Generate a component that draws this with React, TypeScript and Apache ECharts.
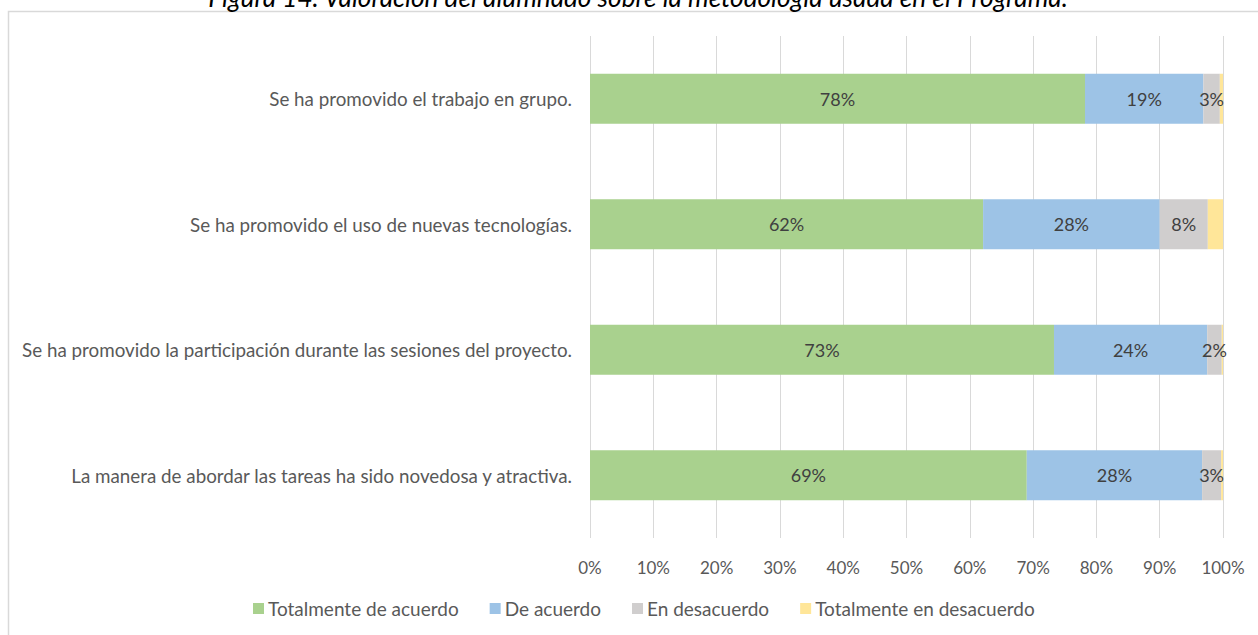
import React, { useEffect, useRef } from "react";
import * as echarts from "echarts";

const categories = [
  "Se ha promovido el trabajo en grupo.",
  "Se ha promovido el uso de nuevas tecnologías.",
  "Se ha promovido la participación durante las sesiones del proyecto.",
  "La manera de abordar las tareas ha sido novedosa y atractiva.",
];
const seriesNames = [
  "Totalmente de acuerdo",
  "De acuerdo",
  "En desacuerdo",
  "Totalmente en desacuerdo",
];
const totalmenteDeAcuerdo = [78.2, 62.1, 73.3, 69.0];
const deAcuerdo = [18.7, 27.9, 24.2, 27.7];
const enDesacuerdo = [2.6, 7.6, 2.3, 3.0];
const totalmenteEnDesacuerdo = [0.5, 2.4, 0.2, 0.3];
const xTicks = [0, 10, 20, 30, 40, 50, 60, 70, 80, 90, 100];
const colors = ["#A9D18E", "#9DC3E6", "#D0CECE", "#FFE699"];
const title = "Figura 14. Valoración del alumnado sobre la metodología usada en el Programa.";

const FONT = "Lato";

export default function App() {
  const ref = useRef<HTMLDivElement>(null);
  useEffect(() => {
    if (!ref.current) return;
    const chart = echarts.init(ref.current, null, { renderer: "svg" });
    const values = [totalmenteDeAcuerdo, deAcuerdo, enDesacuerdo, totalmenteEnDesacuerdo];
    chart.setOption({
      animation: false,
      textStyle: { fontFamily: FONT },
      graphic: [
        {
          type: "rect",
          shape: { x: 8.5, y: 11.5, width: 1400, height: 800 },
          style: { fill: "none", stroke: "#d9d9d9", lineWidth: 1.5 },
          silent: true,
        },
        {
          type: "text",
          x: 638,
          y: 10,
          style: {
            text: title,
            font: `italic 26.2px ${FONT}`,
            fill: "#000000",
            textAlign: "center",
            textVerticalAlign: "bottom",
          },
        },
      ],
      legend: {
        bottom: 12,
        left: 248,
        itemWidth: 11,
        itemHeight: 11,
        itemGap: 31,
        icon: "rect",
        textStyle: { color: "#595959", fontSize: 19, fontFamily: FONT, padding: [0, 0, 0, -1] },
        data: seriesNames,
      },
      grid: {
        left: 590,
        right: 35,
        top: 36,
        bottom: 97,
        containLabel: false,
        outerBoundsMode: "none",
      },
      xAxis: {
        type: "value",
        min: xTicks[0],
        max: xTicks[xTicks.length - 1],
        interval: 10,
        axisLine: { show: false },
        axisTick: { show: false },
        splitLine: { show: true, lineStyle: { color: "#d9d9d9", width: 1 } },
        axisLabel: {
          formatter: (v: number) => `${v}%`,
          color: "#595959",
          fontSize: 17,
          fontFamily: FONT,
          margin: 21,
        },
      },
      yAxis: {
        type: "category",
        data: categories,
        inverse: true,
        axisLine: { show: false },
        axisTick: { show: false },
        axisLabel: { color: "#595959", fontSize: 18.8, fontFamily: FONT, margin: 18 },
      },
      series: seriesNames.map((name, i) => ({
        name,
        type: "bar",
        stack: "total",
        barWidth: 50,
        data: values[i],
        itemStyle: { color: colors[i] },
        label: {
          show: i < 3,
          position: "inside",
          color: "#404040",
          fontSize: 18,
          fontFamily: FONT,
          formatter: (p: any) => `${Math.round(p.value)}%`,
        },
      })),
    });
    return () => chart.dispose();
  }, []);
  return (
    <div
      ref={ref}
      style={{ position: "absolute", left: 0, top: 0, width: 1258, height: 635, background: "#fff" }}
    />
  );
}
